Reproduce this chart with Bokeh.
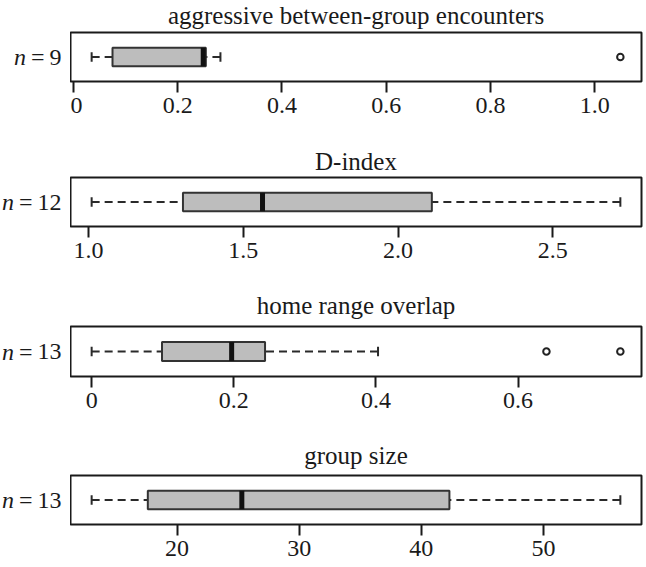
from bokeh.plotting import figure
from bokeh.models import FixedTicker, Range1d
from bokeh.layouts import column, row
from bokeh.embed import file_html
from bokeh.resources import INLINE
from bokeh.core.properties import value

# ---- data ----
titles = ["aggressive between-group encounters", "D-index",
          "home range overlap", "group size"]
sample_sizes = [9, 12, 13, 13]
lower_whisker = [0.035, 1.01, 0.0, 13.0]
q1 = [0.075, 1.305, 0.099, 17.6]
median = [0.249, 1.562, 0.197, 25.3]
q3 = [0.254, 2.109, 0.244, 42.3]
upper_whisker = [0.282, 2.718, 0.403, 56.3]
outliers = [[1.049], [], [0.640, 0.744], []]
tick_values = [[0, 0.2, 0.4, 0.6, 0.8, 1.0], [1.0, 1.5, 2.0, 2.5],
               [0, 0.2, 0.4, 0.6], [20, 30, 40, 50]]
tick_labels = [["0", "0.2", "0.4", "0.6", "0.8", "1.0"], ["1.0", "1.5", "2.0", "2.5"],
               ["0", "0.2", "0.4", "0.6"], ["20", "30", "40", "50"]]

# ---- layout / style ----
FONT = "Liberation Serif"
TICK_SIZE = "24px"
TITLE_SIZE = "25px"
INK = "#1a1a1a"
BOX_FILL = "#bdbdbd"
PAGE_W = 646
LEFT_W = 70
MAIN_W = PAGE_W - LEFT_W
FRAME_CENTER = LEFT_W + (MAIN_W - 5) / 2
strip_h = [31, 36, 35, 34]          # space above each frame (title strip)
frame_h = [49, 49, 50, 49]
below_h = [59, 64, 64, 43]          # space below each frame (axis)
title_baseline = [15, 14.5, 19, 18]  # title text position in its strip

rows = []
for i in range(4):
    vals_lo = [lower_whisker[i]] + outliers[i]
    vals_hi = [upper_whisker[i]] + outliers[i]
    lo, hi = min(vals_lo), max(vals_hi)
    pad = 0.04 * (hi - lo)
    x0, x1 = lo - pad, hi + pad
    body_h = 1 + frame_h[i] + below_h[i]

    # title strip
    tf = figure(width=PAGE_W, height=strip_h[i], x_range=Range1d(0, PAGE_W),
                y_range=Range1d(-1, strip_h[i] - 1), output_backend="svg",
                toolbar_location=None, x_axis_location=None, y_axis_location=None,
                min_border=0)
    tf.grid.visible = False
    tf.outline_line_color = None
    tf.text(x=[FRAME_CENTER], y=[title_baseline[i]], text=[titles[i]],
            text_align="center", text_baseline="alphabetic", text_font=value(FONT),
            text_font_size=TITLE_SIZE, text_color=INK)

    # left strip holding the "n = k" text
    lf = figure(width=LEFT_W, height=body_h, x_range=Range1d(0, LEFT_W),
                y_range=Range1d(0, 1), output_backend="svg", toolbar_location=None,
                x_axis_location=None, y_axis_location=None,
                min_border_left=0, min_border_right=0,
                min_border_top=1, min_border_bottom=below_h[i])
    lf.grid.visible = False
    lf.outline_line_color = None
    num = str(sample_sizes[i])
    num_w = 12 * len(num)
    eq_right = 61 - num_w - 5
    n_right = eq_right - 13.5 - 5
    lf.text(x=[61], y=[0.5], text=[num], text_align="right", text_baseline="middle",
            text_font=value(FONT), text_font_size=TICK_SIZE, text_color=INK)
    lf.text(x=[eq_right], y=[0.5], text=["="], text_align="right",
            text_baseline="middle", text_font=value(FONT),
            text_font_size=TICK_SIZE, text_color=INK)
    lf.text(x=[n_right], y=[0.5], text=["n"], text_align="right",
            text_baseline="middle", text_font=value(FONT), text_font_style="italic",
            text_font_size=TICK_SIZE, text_color=INK)

    p = figure(width=MAIN_W, height=body_h, x_range=Range1d(x0, x1),
               y_range=Range1d(0, 1), output_backend="svg", toolbar_location=None,
               y_axis_location=None, min_border_left=0, min_border_right=5,
               min_border_top=1, min_border_bottom=below_h[i])
    p.grid.visible = False
    p.outline_line_color = INK
    p.outline_line_width = 2
    p.outline_line_alpha = 1
    p.background_fill_color = "white"
    p.border_fill_color = "white"

    ax = p.xaxis[0]
    ax.ticker = FixedTicker(ticks=tick_values[i])
    ax.major_label_overrides = {v: s for v, s in zip(tick_values[i], tick_labels[i])}
    ax.axis_line_color = None
    ax.major_tick_in = 0
    ax.major_tick_out = 11
    ax.major_tick_line_width = 2
    ax.major_tick_line_color = INK
    ax.minor_tick_line_color = None
    ax.major_label_standoff = 5
    ax.major_label_text_font = FONT
    ax.major_label_text_font_size = TICK_SIZE
    ax.major_label_text_color = INK

    # whiskers (dashed, drawn from whisker end to box edge)
    p.segment(x0=[lower_whisker[i], upper_whisker[i]], y0=[0.5, 0.5],
              x1=[q1[i], q3[i]], y1=[0.5, 0.5], line_color="#2a2a2a",
              line_width=2, line_dash="8 5")
    # staples
    p.segment(x0=[lower_whisker[i], upper_whisker[i]], y0=[0.405, 0.405],
              x1=[lower_whisker[i], upper_whisker[i]], y1=[0.595, 0.595],
              line_color="#2a2a2a", line_width=2)
    # box
    p.hbar(y=[0.5], left=[q1[i]], right=[q3[i]], height=0.38,
           fill_color=BOX_FILL, line_color="#333333", line_width=2)
    # median
    p.segment(x0=[median[i]], y0=[0.31], x1=[median[i]], y1=[0.69],
              line_color="#111111", line_width=5)
    # outliers
    if outliers[i]:
        p.scatter(x=outliers[i], y=[0.5] * len(outliers[i]), size=6.5,
                  fill_color="white", line_color="#222222", line_width=2)

    rows.append(column(tf, row(lf, p, spacing=0), spacing=0))

layout = column(*rows, spacing=0)
open("out.html", "w").write(file_html(layout, INLINE))
